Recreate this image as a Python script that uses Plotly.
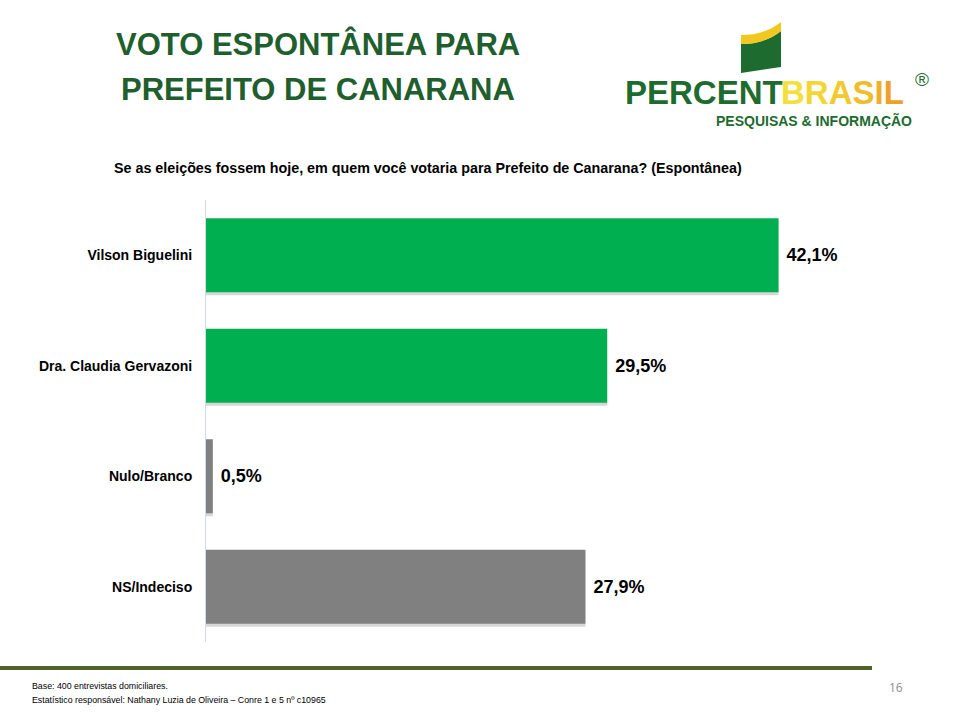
import plotly.graph_objects as go

categories = ["Vilson Biguelini", "Dra. Claudia Gervazoni", "Nulo/Branco", "NS/Indeciso"]
values = [42.1, 29.5, 0.5, 27.9]
bar_colors = ["#00B050", "#00B050", "#808080", "#808080"]
labels = ["<b>\u00a0" + f"{v:.1f}%".replace(".", ",") + "</b>" for v in values]

title_lines = ["VOTO ESPONTÂNEA PARA", "PREFEITO DE CANARANA"]
subtitle = "Se as eleições fossem hoje, em quem você votaria para Prefeito de Canarana? (Espontânea)"
footer_lines = ["Base: 400 entrevistas domiciliares.",
                "Estatístico responsável: Nathany Luzia de Oliveira – Conre 1 e 5 nº c10965"]
page_number = "16"
brasil_letters = ["B", "R", "A", "S", "I", "L"]
brasil_colors = ["#F3E03A", "#F3D634", "#F2C92F", "#F1BC2C", "#F0AE2A", "#EFA027"]

W, H = 960, 720
L, R, T, B = 206, 142, 200, 78
PW, PH = W - L - R, H - T - B
BAR_W = 0.67
SHADOW_SHIFT = 3 / (PH / len(categories))

fig = go.Figure()
# soft drop shadow under each bar
fig.add_trace(go.Bar(
    y=categories, x=values, orientation="h",
    width=BAR_W, offset=-BAR_W / 2 + SHADOW_SHIFT,
    marker=dict(color="rgba(0,0,0,0.16)", line=dict(width=0)),
    hoverinfo="skip",
))
fig.add_trace(go.Bar(
    y=categories, x=values, orientation="h",
    width=BAR_W, offset=-BAR_W / 2,
    marker=dict(color=bar_colors, line=dict(width=0)),
    text=labels, textposition="outside", cliponaxis=False,
    textfont=dict(family="Liberation Sans, Arial", size=18, color="#000000"),
    hoverinfo="skip",
))

def px_x(p):
    return (p - L) / PW

def px_y(p):
    return (H - B - p) / PH

annotations = []
for i, line in enumerate(title_lines):
    annotations.append(dict(
        text=f"<b>{line}</b>", x=px_x(318), y=px_y(44 + 45 * i), xref="paper", yref="paper",
        xanchor="center", yanchor="middle", showarrow=False,
        font=dict(family="Liberation Sans, Arial", size=31, color="#215E2E"),
    ))
annotations.append(dict(
    text=f"<b>{subtitle}</b>", x=px_x(428), y=px_y(168), xref="paper", yref="paper",
    xanchor="center", yanchor="middle", showarrow=False,
    font=dict(family="Liberation Sans, Arial", size=14.3, color="#000000"),
))
annotations.append(dict(
    text="<b>PERCENT</b>", x=px_x(623), y=px_y(93), xref="paper", yref="paper",
    xanchor="left", yanchor="middle", showarrow=False,
    font=dict(family="Liberation Sans, Arial", size=33, color="#1E6B30"),
))
brasil_text = "".join(f"<span style='color:{c}'>{ch}</span>" for ch, c in zip(brasil_letters, brasil_colors))
annotations.append(dict(
    text=f"<b>{brasil_text}</b>", x=px_x(906), y=px_y(93), xref="paper", yref="paper",
    xanchor="right", yanchor="middle", showarrow=False,
    font=dict(family="Liberation Sans, Arial", size=33, color="#F2C81E"),
))
annotations.append(dict(
    text="®", x=px_x(922), y=px_y(79), xref="paper", yref="paper",
    xanchor="center", yanchor="middle", showarrow=False,
    font=dict(family="Liberation Sans, Arial", size=19, color="#1E6B30"),
))
annotations.append(dict(
    text="<b>PESQUISAS &amp; INFORMAÇÃO</b>", x=px_x(814), y=px_y(121), xref="paper", yref="paper",
    xanchor="center", yanchor="middle", showarrow=False,
    font=dict(family="Liberation Sans, Arial", size=14, color="#1E6B30"),
))
for i, line in enumerate(footer_lines):
    annotations.append(dict(
        text=line, x=px_x(30), y=px_y(686 + 14 * i), xref="paper", yref="paper",
        xanchor="left", yanchor="middle", showarrow=False,
        font=dict(family="Liberation Sans, Arial", size=8.8, color="#000000"),
    ))
annotations.append(dict(
    text=page_number, x=px_x(896), y=px_y(687), xref="paper", yref="paper",
    xanchor="center", yanchor="middle", showarrow=False,
    font=dict(family="Open Sans, Noto Sans", size=12, color="#8C8C8C"),
))

shapes = [
    dict(type="line", xref="paper", yref="paper", x0=px_x(0), x1=px_x(872),
         y0=px_y(668), y1=px_y(668), line=dict(color="#4F6228", width=4)),
    dict(type="path", xref="paper", yref="paper",
         path=f"M {px_x(741)},{px_y(44)} Q {px_x(765)},{px_y(44)} {px_x(781)},{px_y(31)} "
              f"L {px_x(781)},{px_y(67)} L {px_x(741)},{px_y(73)} Z",
         fillcolor="#1E6B30", line=dict(width=0)),
    dict(type="path", xref="paper", yref="paper",
         path=f"M {px_x(741)},{px_y(35)} Q {px_x(765)},{px_y(35)} {px_x(781)},{px_y(22)} "
              f"L {px_x(781)},{px_y(31)} Q {px_x(765)},{px_y(44)} {px_x(741)},{px_y(44)} Z",
         fillcolor="#F2C81E", line=dict(width=0)),
]

fig.update_layout(
    width=W, height=H,
    margin=dict(l=L, r=R, t=T, b=B, pad=0),
    paper_bgcolor="#FFFFFF", plot_bgcolor="#FFFFFF",
    showlegend=False,
    barmode="overlay",
    xaxis=dict(range=[0, 45], visible=False, fixedrange=True),
    yaxis=dict(autorange="reversed", showline=True, linecolor="#D0DAEA", linewidth=1,
               showgrid=False, zeroline=False, ticks="outside", ticklen=10, tickcolor="rgba(0,0,0,0)",
               automargin=False,
               tickfont=dict(family="Liberation Sans, Arial", size=14, color="#000000"),
               tickprefix="<b>", ticksuffix="</b>"),
    annotations=annotations,
    shapes=shapes,
)

fig.write_html("out.html", config={"displayModeBar": False},
               post_script="document.body.style.margin='0';")
